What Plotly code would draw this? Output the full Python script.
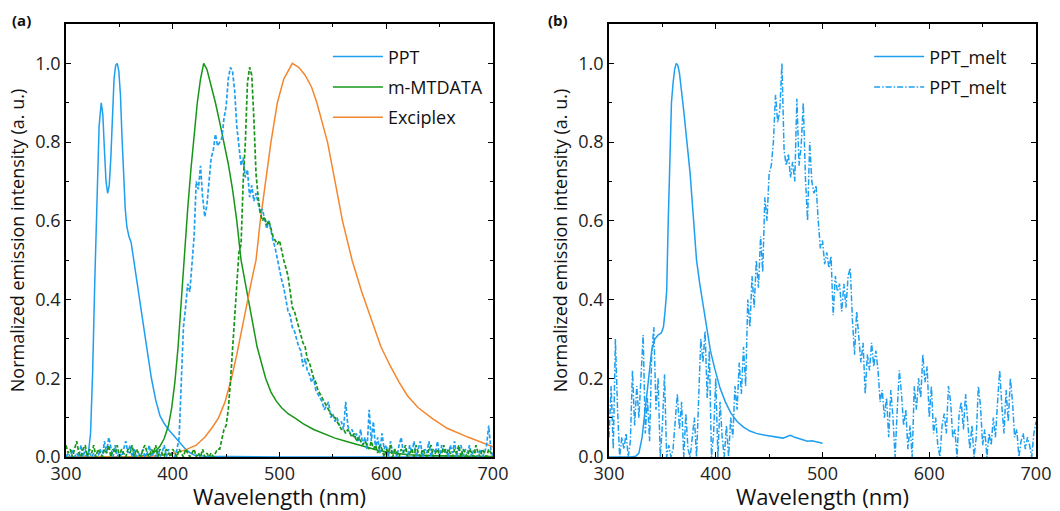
import plotly.graph_objects as go

# ---------------- Panel (a) data ----------------
ppt_wl = [300, 310, 318, 321, 323, 325, 327, 329, 331, 333, 334.5, 336, 337.5, 339, 340.5, 342, 343.5, 345, 346.5, 348,
          349.5, 351, 352.5, 354, 355.5, 357, 359, 361, 363, 366, 370, 375, 380, 384, 388, 392, 396, 400, 404, 408,
          412, 416, 420, 430, 450, 500, 600, 700]
ppt_val = [0, 0, 0.002, 0.01, 0.06, 0.22, 0.45, 0.65, 0.84, 0.9, 0.87, 0.78, 0.7, 0.67, 0.69, 0.76, 0.87, 0.96, 0.995, 1.0,
           0.98, 0.92, 0.81, 0.7, 0.63, 0.585, 0.56, 0.545, 0.51, 0.455, 0.39, 0.29, 0.2, 0.145, 0.105, 0.085, 0.07, 0.058, 0.046, 0.032,
           0.02, 0.011, 0.005, 0.002, 0.001, 0, 0, 0]

mt_wl = [300, 360, 372, 380, 384, 388, 392, 396, 399, 402, 405, 408, 411, 414, 417, 420, 423, 426, 429, 432, 436, 440,
         444, 448, 452, 456, 460, 464, 468, 471, 475, 479, 483, 487, 492, 497, 502, 508, 515, 522, 532, 542, 552, 562,
         572, 582, 592, 602, 620, 650, 700]
mt_val = [0, 0, 0.003, 0.008, 0.015, 0.027, 0.047, 0.08, 0.125, 0.19, 0.28, 0.4, 0.51, 0.63, 0.73, 0.81, 0.9, 0.96, 1.0,
          0.985, 0.945, 0.9, 0.85, 0.8, 0.745, 0.68, 0.6, 0.5, 0.44, 0.395, 0.33, 0.28, 0.24, 0.2, 0.165, 0.142, 0.125,
          0.11, 0.098, 0.085, 0.07, 0.058, 0.048, 0.04, 0.032, 0.024, 0.017, 0.012, 0.006, 0.003, 0.001]

ex_wl = [300, 360, 380, 392, 402, 412, 422, 430, 437, 443, 449, 455, 460, 465, 470, 474, 478, 482, 487, 492, 498, 504,
         512, 518, 524, 530, 535, 540, 545, 552, 559, 568, 577, 586, 595, 604, 612, 620, 630, 643, 657, 677, 692, 700]
ex_val = [0, 0, 0.002, 0.005, 0.01, 0.018, 0.03, 0.05, 0.075, 0.1, 0.14, 0.2, 0.26, 0.33, 0.4, 0.45, 0.5, 0.6, 0.7, 0.8,
          0.9, 0.96, 1.0, 0.99, 0.97, 0.94, 0.9, 0.85, 0.8, 0.7, 0.6, 0.5, 0.42, 0.35, 0.28, 0.23, 0.19, 0.155, 0.125,
          0.098, 0.073, 0.05, 0.034, 0.026]

# dashed spectra sampled every 2 nm from 300 to 700 nm
dash_wl = list(range(300, 701, 2))
ppt_dash = [0.0, 0.01, 0.0, 0.02, 0.0, 0.01, 0.0, 0.03, 0.0, 0.02, 0.0, 0.01, 0.0, 0.01, 0.0, 0.0, 0.02, 0.0, 0.04, 0.01,
            0.05, 0.02, 0.0, 0.03, 0.0, 0.01, 0.0, 0.02, 0.04, 0.01, 0.03, 0.0, 0.02, 0.0, 0.01, 0.0, 0.02, 0.0, 0.01, 0.03,
            0.0, 0.01, 0.0, 0.02, 0.0, 0.01, 0.03, 0.0, 0.02, 0.0, 0.01, 0.0, 0.02, 0.05, 0.18, 0.33, 0.38, 0.44, 0.42, 0.50,
            0.56, 0.70, 0.68, 0.74, 0.66, 0.61, 0.64, 0.70, 0.76, 0.78, 0.82, 0.79, 0.80, 0.81, 0.86, 0.89, 0.96, 0.99, 0.98, 0.93,
            0.84, 0.78, 0.74, 0.76, 0.71, 0.73, 0.66, 0.69, 0.65, 0.67, 0.64, 0.62, 0.63, 0.60, 0.58, 0.60, 0.57, 0.55, 0.53, 0.50,
            0.47, 0.45, 0.43, 0.40, 0.37, 0.36, 0.33, 0.32, 0.30, 0.28, 0.27, 0.23, 0.25, 0.22, 0.21, 0.19, 0.20, 0.17, 0.16, 0.15,
            0.14, 0.12, 0.13, 0.14, 0.10, 0.11, 0.09, 0.10, 0.08, 0.09, 0.07, 0.14, 0.08, 0.06, 0.07, 0.05, 0.06, 0.04, 0.07, 0.03,
            0.05, 0.02, 0.12, 0.04, 0.09, 0.02, 0.05, 0.01, 0.06, 0.02, 0.03, 0.0, 0.04, 0.01, 0.02, 0.0, 0.03, 0.05, 0.01, 0.02,
            0.0, 0.03, 0.01, 0.04, 0.0, 0.02, 0.04, 0.0, 0.02, 0.01, 0.04, 0.0, 0.02, 0.01, 0.04, 0.0, 0.03, 0.01, 0.02, 0.0,
            0.03, 0.01, 0.04, 0.0, 0.02, 0.03, 0.0, 0.02, 0.01, 0.03, 0.0, 0.02, 0.01, 0.0, 0.02, 0.0, 0.01, 0.03, 0.08, 0.02,
            0.0]
mt_dash = [0.03, 0.01, 0.02, 0.0, 0.02, 0.04, 0.01, 0.0, 0.02, 0.03, 0.0, 0.02, 0.01, 0.03, 0.0, 0.02, 0.01, 0.0, 0.02, 0.01,
           0.03, 0.0, 0.02, 0.01, 0.03, 0.0, 0.02, 0.01, 0.0, 0.02, 0.01, 0.03, 0.0, 0.02, 0.01, 0.0, 0.02, 0.03, 0.01, 0.0,
           0.02, 0.01, 0.03, 0.0, 0.02, 0.01, 0.0, 0.02, 0.01, 0.0, 0.02, 0.01, 0.0, 0.02, 0.01, 0.0, 0.02, 0.01, 0.0, 0.01,
           0.02, 0.0, 0.01, 0.0, 0.02, 0.0, 0.01, 0.0, 0.01, 0.0, 0.01, 0.02, 0.02, 0.05, 0.07, 0.08, 0.12, 0.19, 0.28, 0.36,
           0.44, 0.52, 0.54, 0.70, 0.80, 0.95, 0.99, 0.97, 0.86, 0.72, 0.66, 0.62, 0.60, 0.61, 0.59, 0.60, 0.58, 0.56, 0.55, 0.54,
           0.55, 0.52, 0.50, 0.48, 0.46, 0.42, 0.38, 0.37, 0.35, 0.33, 0.31, 0.29, 0.28, 0.25, 0.24, 0.22, 0.20, 0.19, 0.17, 0.16,
           0.15, 0.14, 0.13, 0.12, 0.11, 0.10, 0.10, 0.09, 0.08, 0.07, 0.07, 0.06, 0.07, 0.06, 0.05, 0.06, 0.04, 0.05, 0.04, 0.03,
           0.04, 0.03, 0.02, 0.04, 0.02, 0.03, 0.01, 0.03, 0.02, 0.0, 0.02, 0.01, 0.03, 0.0, 0.02, 0.01, 0.0, 0.02, 0.01, 0.03,
           0.0, 0.01, 0.02, 0.0, 0.03, 0.01, 0.0, 0.02, 0.01, 0.0, 0.02, 0.03, 0.0, 0.01, 0.02, 0.0, 0.01, 0.03, 0.0, 0.02,
           0.01, 0.0, 0.02, 0.01, 0.03, 0.0, 0.02, 0.01, 0.0, 0.02, 0.01, 0.0, 0.03, 0.01, 0.0, 0.02, 0.01, 0.0, 0.02, 0.01,
           0.0]

# ---------------- Panel (b) data ----------------
melt_wl = [300, 320, 325, 328, 331, 334, 337, 340, 343, 346, 349, 351, 352.5, 354, 355.5, 357, 358.5, 360, 361.5, 363,
           364.5, 366, 368, 370, 373, 376, 379, 382, 385, 388, 391, 395, 399, 404, 409, 414, 420, 426, 432, 438, 445,
           452, 458, 463, 467, 470, 474, 478, 482, 486, 490, 494, 498, 500]
melt_val = [0, 0, 0.002, 0.01, 0.05, 0.12, 0.2, 0.27, 0.3, 0.31, 0.315, 0.33, 0.37, 0.42, 0.6, 0.78, 0.9, 0.95, 0.985, 1.0,
            0.995, 0.975, 0.93, 0.88, 0.8, 0.72, 0.61, 0.5, 0.44, 0.39, 0.34, 0.27, 0.225, 0.175, 0.14, 0.112, 0.09, 0.076,
            0.066, 0.06, 0.056, 0.053, 0.05, 0.048, 0.052, 0.055, 0.05, 0.046, 0.042, 0.04, 0.041, 0.038, 0.036, 0.035]

melt_dash = [0.05, 0.18, 0.02, 0.30, 0.12, 0.0, 0.05, 0.02, 0.06, 0.0, 0.04, 0.22, 0.08, 0.18, 0.10, 0.20, 0.31, 0.06, 0.15, 0.04,
             0.26, 0.33, 0.12, 0.20, 0.0, 0.08, 0.21, 0.0, 0.03, 0.0, 0.02, 0.09, 0.16, 0.07, 0.14, 0.0, 0.11, 0.02, 0.0, 0.05,
             0.10, 0.0, 0.18, 0.30, 0.24, 0.32, 0.15, 0.27, 0.0, 0.06, 0.20, 0.0, 0.14, 0.05, 0.0, 0.08, 0.0, 0.10, 0.05, 0.18,
             0.12, 0.24, 0.16, 0.28, 0.18, 0.40, 0.33, 0.46, 0.38, 0.50, 0.43, 0.56, 0.47, 0.66, 0.60, 0.72, 0.74, 0.80, 0.92, 0.85,
             0.88, 1.00, 0.78, 0.74, 0.77, 0.71, 0.75, 0.70, 0.91, 0.74, 0.79, 0.90, 0.71, 0.60, 0.80, 0.70, 0.67, 0.69, 0.60, 0.53,
             0.55, 0.49, 0.52, 0.48, 0.51, 0.36, 0.46, 0.42, 0.44, 0.37, 0.44, 0.38, 0.46, 0.48, 0.35, 0.26, 0.37, 0.30, 0.24, 0.29,
             0.16, 0.26, 0.22, 0.29, 0.23, 0.27, 0.22, 0.14, 0.17, 0.10, 0.15, 0.05, 0.17, 0.10, 0.0, 0.12, 0.22, 0.16, 0.08, 0.12,
             0.02, 0.08, 0.0, 0.18, 0.12, 0.20, 0.15, 0.26, 0.19, 0.23, 0.10, 0.18, 0.06, 0.10, 0.03, 0.0, 0.08, 0.11, 0.06, 0.18,
             0.14, 0.05, 0.07, 0.0, 0.11, 0.14, 0.07, 0.16, 0.10, 0.02, 0.08, 0.0, 0.05, 0.18, 0.13, 0.03, 0.07, 0.0, 0.06, 0.03,
             0.10, 0.05, 0.14, 0.22, 0.13, 0.06, 0.17, 0.09, 0.20, 0.14, 0.05, 0.07, 0.0, 0.04, 0.06, 0.02, 0.05, 0.03, 0.0, 0.06,
             0.09]

BLUE = "#1e9ff0"
GREEN = "#179617"
ORANGE = "#f5862c"
FONT = "Open Sans"

fig = go.Figure()

fig.add_trace(go.Scatter(x=ppt_wl, y=ppt_val, mode="lines", name="PPT", line=dict(color=BLUE, width=1.5),
                         legend="legend", legendgroup="a1"))
fig.add_trace(go.Scatter(x=mt_wl, y=mt_val, mode="lines", name="m-MTDATA", line=dict(color=GREEN, width=1.5),
                         legend="legend", legendgroup="a2"))
fig.add_trace(go.Scatter(x=ex_wl, y=ex_val, mode="lines", name="Exciplex", line=dict(color=ORANGE, width=1.5),
                         legend="legend", legendgroup="a3"))
fig.add_trace(go.Scatter(x=dash_wl, y=ppt_dash, mode="lines", showlegend=False,
                         line=dict(color=BLUE, width=1.7, dash="4px,2px")))
fig.add_trace(go.Scatter(x=dash_wl, y=mt_dash, mode="lines", showlegend=False,
                         line=dict(color=GREEN, width=1.7, dash="4px,2px")))

fig.add_trace(go.Scatter(x=melt_wl, y=melt_val, mode="lines", name="PPT_melt", line=dict(color=BLUE, width=1.5),
                         xaxis="x2", yaxis="y2", legend="legend2", legendgroup="b1"))
fig.add_trace(go.Scatter(x=dash_wl, y=melt_dash, mode="lines", name="PPT_melt",
                         line=dict(color=BLUE, width=1.5, dash="6px,2px,1.5px,2px"),
                         xaxis="x2", yaxis="y2", legend="legend2", legendgroup="b2"))

common = dict(showline=True, linecolor="black", linewidth=1.5, mirror="ticks", ticks="inside", ticklen=5,
              tickwidth=1.2, tickcolor="black", showgrid=False, zeroline=False, automargin=False,
              tickfont=dict(family=FONT, size=18, color="#222"))
xax = dict(common, range=[300, 700], tick0=300, dtick=100,
           minor=dict(ticks="inside", ticklen=3, tickwidth=1.2, tickcolor="black", dtick=50, showgrid=False),
           title=dict(text="Wavelength (nm)", font=dict(family=FONT, size=22, color="#111"), standoff=7))
yax = dict(common, range=[0, 1.1], tick0=0, dtick=0.2, tickformat=".1f",
           minor=dict(ticks="inside", ticklen=3, tickwidth=1.2, tickcolor="black", dtick=0.1, showgrid=False),
           title=dict(text="Normalized emission intensity (a. u.)", font=dict(family=FONT, size=18, color="#111"),
                      standoff=6))

fig.update_layout(
    width=1060, height=511, autosize=False,
    margin=dict(l=66, r=24, t=24, b=54, autoexpand=False),
    paper_bgcolor="white", plot_bgcolor="white",
    font=dict(family=FONT, color="#111"),
    xaxis=dict(xax, domain=[0, 0.4402], anchor="y"),
    yaxis=dict(yax, domain=[0, 1], anchor="x"),
    xaxis2=dict(xax, domain=[0.5598, 1], anchor="y2"),
    yaxis2=dict(yax, domain=[0, 1], anchor="x2"),
    legend=dict(x=0.270, y=0.967, xanchor="left", yanchor="top", bgcolor="rgba(0,0,0,0)",
                font=dict(family=FONT, size=18, color="#111"), tracegroupgap=4, itemwidth=50),
    legend2=dict(x=0.828, y=0.967, xanchor="left", yanchor="top", bgcolor="rgba(0,0,0,0)",
                 font=dict(family=FONT, size=18, color="#111"), tracegroupgap=4, itemwidth=50),
    annotations=[
        dict(text="<b>(a)</b>", x=-0.058, y=1.01, xref="paper", yref="paper", xanchor="left", yanchor="middle",
             showarrow=False, font=dict(family=FONT, size=15, color="#111")),
        dict(text="<b>(b)</b>", x=0.4948, y=1.01, xref="paper", yref="paper", xanchor="left", yanchor="middle",
             showarrow=False, font=dict(family=FONT, size=15, color="#111")),
    ],
)

# remove the default page margin so the figure sits at the window's top-left corner
fig.write_html("out.html", config={"displayModeBar": False},
               post_script="document.body.style.margin='0px';")
